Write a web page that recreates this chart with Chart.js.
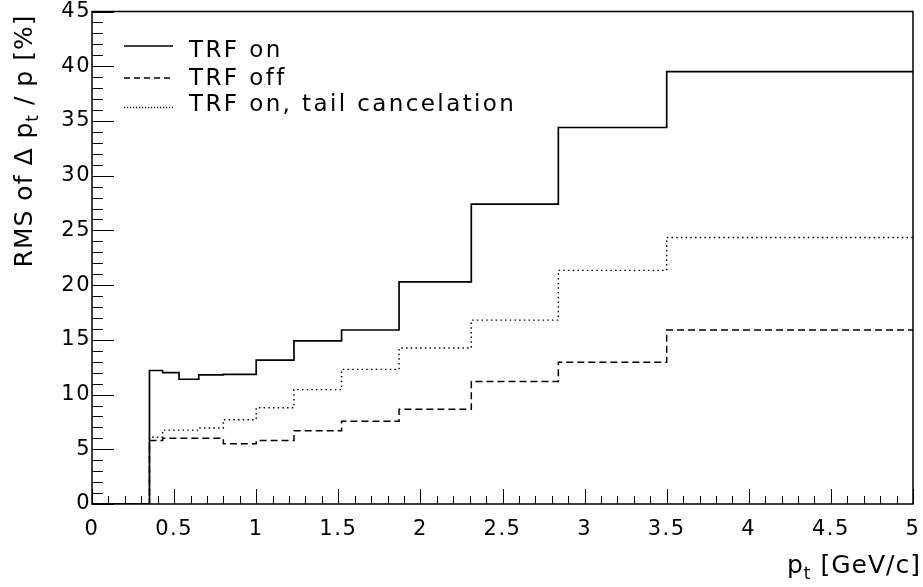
<!DOCTYPE html>
<html>
<head>
<meta charset="utf-8">
<script src="https://cdn.jsdelivr.net/npm/chart.js@4/dist/chart.umd.min.js"></script>
<style>
  html, body { margin: 0; padding: 0; background: #fff; }
  #wrap { width: 923px; height: 587px; position: relative; }
</style>
</head>
<body>
<div id="wrap"><canvas id="chart"></canvas></div>
<script>
// bin edges in pt [GeV/c] (last edge closes the last bin)
const binEdges = [0, 0.35, 0.43, 0.53, 0.65, 0.80, 1.0, 1.23, 1.52, 1.87, 2.31, 2.84, 3.5, 5.0];
// RMS of dpt/pt [%] per bin
const trfOn   = [0, 12.2, 12.0, 11.4, 11.8, 11.85, 13.15, 14.9, 15.9, 20.3, 27.4, 34.4, 39.5];
const trfOff  = [0, 5.8, 6.0, 6.0, 6.0, 5.5, 5.8, 6.7, 7.55, 8.65, 11.2, 12.95, 15.9];
const trfTail = [0, 6.1, 6.75, 6.75, 6.95, 7.7, 8.8, 10.45, 12.3, 14.25, 16.8, 21.35, 24.35];
const seriesNames = ['TRF on', 'TRF off', 'TRF on, tail cancelation'];

const FONT = 'DejaVu Sans';

// histogram -> step points (value holds until the next edge)
function toSteps(values) {
    const pts = values.map((v, i) => ({ x: binEdges[i], y: v }));
    pts.push({ x: binEdges[binEdges.length - 1], y: values[values.length - 1] });
    return pts;
}

const styles = [
    { dash: [], legendDash: [], width: 1.7 },
    { dash: [7, 4], legendDash: [6, 4], width: 1.5 },
    { dash: [1.5, 3.2], legendDash: [1.2, 1.8], width: 1.4 }
];

// ROOT-like frame, inward ticks, legend and axis titles
const rootFrame = {
    id: 'rootFrame',
    beforeDraw(chart) {
        chart.ctx.letterSpacing = '1.5px';
    },
    afterDraw(chart) {
        const ctx = chart.ctx;
        const a = chart.chartArea;
        const xs = chart.scales.x, ys = chart.scales.y;
        ctx.save();
        ctx.strokeStyle = '#000';
        ctx.fillStyle = '#000';
        ctx.setLineDash([]);

        // ticks
        ctx.lineWidth = 1;
        ctx.beginPath();
        for (let v = 0; v <= 45; v++) {
            const y = Math.round(ys.getPixelForValue(v)) + 0.5;
            const len = v % 5 === 0 ? 22 : 11;
            ctx.moveTo(a.left, y);
            ctx.lineTo(a.left + len, y);
        }
        for (let k = 0; k <= 50; k++) {
            const x = Math.round(xs.getPixelForValue(k / 10)) + 0.5;
            const len = k % 5 === 0 ? 15 : 8;
            ctx.moveTo(x, a.bottom);
            ctx.lineTo(x, a.bottom - len);
        }
        ctx.stroke();

        // frame
        ctx.lineWidth = 1.5;
        ctx.strokeRect(a.left, a.top, a.right - a.left, a.bottom - a.top);

        // legend
        const rows = [{ line: 46, base: 57 }, { line: 78, base: 85 }, { line: 107.5, base: 111 }];
        ctx.font = '23px "' + FONT + '"';
        ctx.letterSpacing = '2.4px';
        ctx.textBaseline = 'alphabetic';
        ctx.textAlign = 'left';
        chart.data.datasets.forEach((ds, i) => {
            const st = styles[i];
            ctx.lineWidth = st.width;
            ctx.setLineDash(st.legendDash);
            ctx.beginPath();
            ctx.moveTo(124, rows[i].line);
            ctx.lineTo(173, rows[i].line);
            ctx.stroke();
            ctx.setLineDash([]);
            ctx.fillText(ds.label, 189, rows[i].base);
        });

        // titles
        ctx.letterSpacing = '1px';
        const big = '25px "' + FONT + '"', small = '17px "' + FONT + '"';
        function pieces(list) {
            let w = 0;
            list.forEach(p => { ctx.font = p.sub ? small : big; p.w = ctx.measureText(p.t).width; w += p.w; });
            return w;
        }
        function drawPieces(list, x0) {
            let x = x0;
            list.forEach(p => {
                ctx.font = p.sub ? small : big;
                ctx.fillText(p.t, x, p.sub ? 6 : 0);
                x += p.w;
            });
        }
        // y title, rotated
        const yt = [{ t: 'RMS of \u0394 p' }, { t: 't', sub: true }, { t: ' / p [%]' }];
        const yw = pieces(yt);
        ctx.save();
        ctx.translate(32, 141);
        ctx.rotate(-Math.PI / 2);
        drawPieces(yt, -yw / 2);
        ctx.restore();
        // x title, right aligned
        const xt = [{ t: 'p' }, { t: 't', sub: true }, { t: ' [GeV/c]' }];
        const xw = pieces(xt);
        ctx.save();
        ctx.translate(0, 573);
        drawPieces(xt, 921 - xw);
        ctx.restore();

        ctx.restore();
    }
};

const ctx = document.getElementById('chart').getContext('2d');
new Chart(ctx, {
    type: 'line',
    data: {
        datasets: [trfOn, trfOff, trfTail].map((vals, i) => ({
            label: seriesNames[i],
            data: toSteps(vals),
            stepped: 'before',
            borderColor: '#000',
            borderWidth: styles[i].width,
            borderDash: styles[i].dash,
            pointRadius: 0,
            fill: false
        }))
    },
    options: {
        responsive: true,
        maintainAspectRatio: false,
        animation: false,
        layout: { padding: { top: 11, right: 10, left: 0, bottom: 0 } },
        plugins: {
            legend: { display: false },
            tooltip: { enabled: false }
        },
        scales: {
            x: {
                type: 'linear',
                min: 0, max: 5,
                ticks: {
                    stepSize: 0.5,
                    padding: 15,
                    color: '#000',
                    maxRotation: 0,
                    autoSkip: false,
                    font: { family: FONT, size: 21, lineHeight: 1 },
                    callback: v => String(Math.round(v * 10) / 10)
                },
                grid: { display: false, drawTicks: false },
                border: { display: false },
                afterFit: s => { s.height = 83; s.paddingRight = 0; }
            },
            y: {
                min: 0, max: 45,
                ticks: {
                    stepSize: 5,
                    padding: 1,
                    color: '#000',
                    font: { family: FONT, size: 21, lineHeight: 1 }
                },
                grid: { display: false, drawTicks: false },
                border: { display: false },
                afterFit: s => { s.width = 92; }
            }
        }
    },
    plugins: [rootFrame]
});
</script>
</body>
</html>
